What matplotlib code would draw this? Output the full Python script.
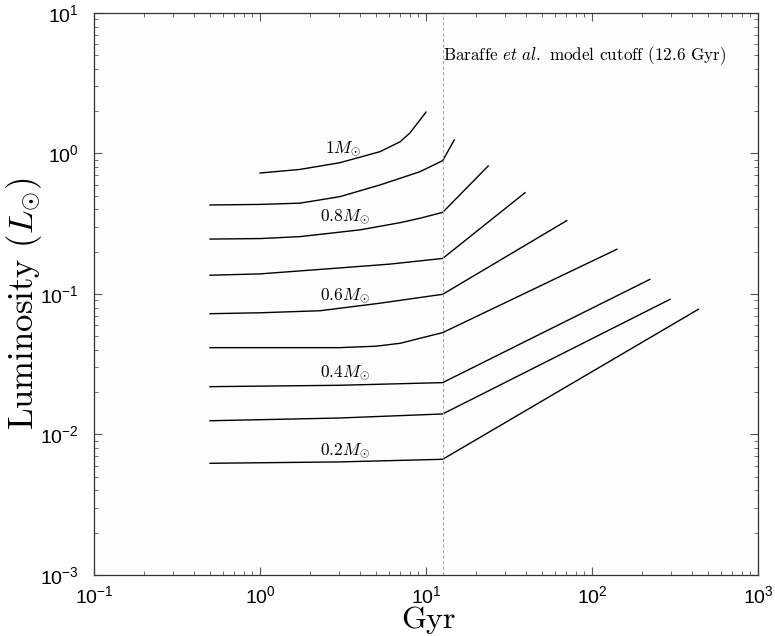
import matplotlib
matplotlib.use('Agg')
import matplotlib.pyplot as plt
from matplotlib.ticker import LogLocator, FuncFormatter, NullFormatter
import numpy as np

plt.rcParams['mathtext.fontset'] = 'cm'
plt.rcParams['font.family'] = ['cmr10', 'DejaVu Serif']
plt.rcParams['axes.formatter.use_mathtext'] = True

cutoff = 12.6

# ages (Gyr) and luminosities (L_sun), top curve first
age_10 = [1.0, 1.74, 3.03, 5.28, 6.97, 8.0, 10.0]
lum_10 = [0.726, 0.77, 0.86, 1.03, 1.21, 1.40, 1.97]
age_09 = [0.5, 1.0, 1.74, 3.03, 5.28, 9.2, 12.6, 14.8]
lum_09 = [0.43, 0.434, 0.443, 0.493, 0.597, 0.742, 0.889, 1.25]
age_08 = [0.5, 1.0, 1.74, 4.0, 7.0, 9.2, 12.6, 23.7]
lum_08 = [0.246, 0.248, 0.256, 0.286, 0.322, 0.346, 0.381, 0.815]
age_07 = [0.5, 1.0, 2.75, 6.0, 12.6, 39.5]
lum_07 = [0.136, 0.139, 0.152, 0.163, 0.179, 0.526]
age_06 = [0.5, 1.0, 2.3, 5.28, 12.6, 70.5]
lum_06 = [0.0724, 0.0735, 0.076, 0.086, 0.0995, 0.333]
age_05 = [0.5, 3.0, 5.0, 7.0, 9.2, 12.6, 141.0]
lum_05 = [0.0415, 0.0415, 0.0425, 0.0446, 0.0484, 0.0531, 0.208]
age_04 = [0.5, 3.0, 12.6, 223.0]
lum_04 = [0.0219, 0.0224, 0.0234, 0.127]
age_03 = [0.5, 3.0, 12.6, 295.0]
lum_03 = [0.01253, 0.0131, 0.014, 0.0916]
age_02 = [0.5, 3.0, 12.6, 437.0]
lum_02 = [0.00624, 0.00638, 0.00666, 0.0778]

tracks = [(age_10, lum_10), (age_09, lum_09), (age_08, lum_08), (age_07, lum_07),
          (age_06, lum_06), (age_05, lum_05), (age_04, lum_04), (age_03, lum_03),
          (age_02, lum_02)]

mass_labels = [r'$1M_{\odot}$', r'$0.8M_{\odot}$', r'$0.6M_{\odot}$',
               r'$0.4M_{\odot}$', r'$0.2M_{\odot}$']
label_pos = [(3.16, 1.09), (3.25, 0.353), (3.25, 0.0968), (3.25, 0.0274), (3.25, 0.00764)]

fig = plt.figure(figsize=(7.75, 6.36), dpi=100)
ax = fig.add_axes([0.1213, 0.0959, 0.8568, 0.8837])
ax.set_facecolor('#fdfdfd')

for age, lum in tracks:
    ax.plot(age, lum, color='black', lw=1.0)

ax.axvline(cutoff, color='#aaaaaa', ls='--', lw=0.8, dashes=(3, 2))
ax.text(cutoff * 1.005, 5.0, r'Baraffe $et\ al.$ model cutoff (12.6 Gyr)',
        fontsize=12.3, ha='left', va='center')

for txt, (x, y) in zip(mass_labels, label_pos):
    ax.text(x, y, txt, fontsize=12.5, ha='center', va='center')

ax.set_xscale('log')
ax.set_yscale('log')
ax.set_xlim(0.1, 1000)
ax.set_ylim(1e-3, 10)

def sci(v, pos):
    e = int(round(np.log10(v)))
    return r'$\mathregular{10^{%d}}$' % e

for axis in (ax.xaxis, ax.yaxis):
    axis.set_major_locator(LogLocator(base=10, numticks=10))
    axis.set_minor_locator(LogLocator(base=10, subs=np.arange(2, 10), numticks=10))
    axis.set_major_formatter(FuncFormatter(sci))
    axis.set_minor_formatter(NullFormatter())

ax.tick_params(which='both', direction='in', top=True, right=True, color='#555555')
ax.tick_params(which='major', length=6, width=0.8, labelsize=14)
ax.tick_params(axis='x', which='major', pad=7)
ax.tick_params(axis='y', which='major', pad=11)
ax.tick_params(which='minor', length=3, width=0.6)
for lbl in ax.get_xticklabels() + ax.get_yticklabels():
    lbl.set_family('Liberation Sans')
for s in ax.spines.values():
    s.set_color('#333333')
    s.set_linewidth(0.9)

ax.set_xlabel('Gyr', fontsize=23)
ax.set_ylabel(r'Luminosity ($L_{\odot}$)', fontsize=25)
ax.xaxis.set_label_coords(0.503, -0.056)
ax.yaxis.set_label_coords(-0.076, 0.484)

fig.savefig('out.png', dpi=100)
